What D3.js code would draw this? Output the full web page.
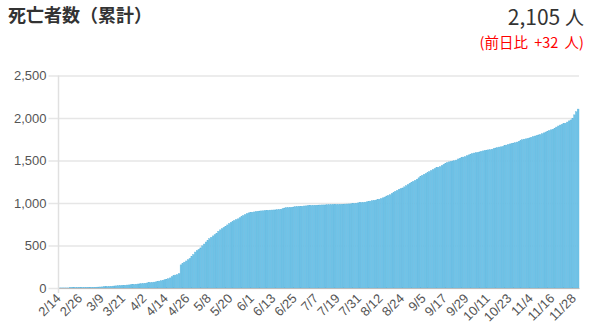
<!DOCTYPE html>
<html>
<head>
<meta charset="utf-8">
<script src="https://cdn.jsdelivr.net/npm/d3@7/dist/d3.min.js"></script>
<style>
  body { margin: 0; background: #fff; }
  svg { display: block; }
  .tick text { font-family: "Liberation Sans", Arial, sans-serif; fill: #555; }
</style>
</head>
<body>
<svg id="chart" width="590" height="330"></svg>
<script>
// cumulative deaths, one value per day from 2/14
var startDate = new Date(2020, 1, 14);
var deathsFeb = [1, 1, 1, 1, 1, 1, 3, 3, 3, 4, 4, 4, 5, 5, 6, 6];
var deathsMar = [6, 7, 7, 8, 9, 10, 11, 12, 13, 15, 16, 17, 19, 20, 22, 24, 25, 27, 28, 30, 31, 33, 35, 36, 38, 41, 42, 45, 47, 49, 51];
var deathsApr = [53, 56, 59, 62, 64, 66, 69, 72, 76, 81, 85, 91, 97, 103, 109, 119, 133, 145, 152, 158, 170, 272, 287, 304, 318, 332, 348, 372, 394, 423];
var deathsMay = [440, 455, 472, 496, 517, 541, 560, 580, 597, 613, 627, 645, 667, 684, 698, 713, 727, 742, 758, 772, 783, 795, 806, 814, 826, 840, 853, 865, 876, 884, 889];
var deathsJun = [892, 895, 899, 902, 905, 907, 908, 910, 912, 914, 916, 917, 918, 919, 921, 924, 927, 934, 941, 945, 946, 948, 950, 953, 956, 958, 959, 960, 962, 965];
var deathsJul = [966, 968, 970, 971, 972, 973, 974, 975, 976, 977, 977, 978, 979, 980, 981, 981, 982, 983, 983, 984, 985, 986, 987, 988, 989, 990, 992, 995, 998, 1001, 1004];
var deathsAug = [1006, 1007, 1010, 1014, 1017, 1022, 1027, 1031, 1034, 1038, 1045, 1053, 1061, 1070, 1082, 1089, 1097, 1113, 1125, 1138, 1149, 1162, 1169, 1177, 1190, 1203, 1217, 1233, 1245, 1255, 1267];
var deathsSep = [1280, 1296, 1310, 1325, 1338, 1347, 1357, 1370, 1383, 1394, 1405, 1415, 1421, 1428, 1442, 1456, 1468, 1477, 1484, 1490, 1494, 1497, 1505, 1518, 1527, 1536, 1540, 1545, 1556, 1566];
var deathsOct = [1575, 1582, 1588, 1591, 1594, 1601, 1608, 1613, 1618, 1622, 1625, 1627, 1633, 1641, 1647, 1652, 1658, 1661, 1664, 1673, 1681, 1689, 1695, 1702, 1705, 1709, 1717, 1726, 1735, 1744, 1751];
var deathsNov = [1755, 1759, 1766, 1774, 1782, 1788, 1795, 1801, 1806, 1815, 1825, 1835, 1845, 1853, 1861, 1868, 1880, 1893, 1906, 1917, 1925, 1932, 1939, 1952, 1966, 1977, 1995, 2037, 2073, 2105];

var xTickLabels = ["2/14", "2/26", "3/9", "3/21", "4/2", "4/14", "4/26", "5/8", "5/20", "6/1", "6/13", "6/25",
    "7/7", "7/19", "7/31", "8/12", "8/24", "9/5", "9/17", "9/29", "10/11", "10/23", "11/4", "11/16", "11/28"];
var yTicks = [0, 500, 1000, 1500, 2000, 2500];

var titleText = "死亡者数（累計）";
var unitText = "人";

var deaths = [].concat(deathsFeb, deathsMar, deathsApr, deathsMay, deathsJun,
    deathsJul, deathsAug, deathsSep, deathsOct, deathsNov);
var fmtDay = d3.timeFormat("%-m/%-d");
var rows = deaths.map(function (v, i) {
    return { label: fmtDay(d3.timeDay.offset(startDate, i)), value: v };
});
var last = deaths[deaths.length - 1],
    diff = last - deaths[deaths.length - 2];

var svg = d3.select("#chart");
var margin = { top: 75.5, right: 11, bottom: 42, left: 58.5 },
    width = 590 - margin.left - margin.right,
    height = 330 - margin.top - margin.bottom;

//  Header ---
svg.append("text")
    .attr("x", 8).attr("y", 22)
    .style("font-family", "'Noto Sans CJK JP', sans-serif")
    .style("font-weight", "bold")
    .style("font-size", "18px")
    .style("fill", "#333")
    .text(titleText);

var total = svg.append("text")
    .attr("x", 584).attr("y", 25)
    .attr("text-anchor", "end")
    .style("font-family", "'Noto Sans CJK JP', sans-serif")
    .style("font-size", "21px")
    .style("fill", "#333");
total.append("tspan").text(d3.format(",")(last) + " ");
total.append("tspan").style("font-size", "19px").text(unitText);

svg.append("text")
    .attr("x", 584).attr("y", 48)
    .attr("text-anchor", "end")
    .style("font-family", "'Noto Sans CJK JP', sans-serif")
    .style("font-size", "14.5px")
    .style("fill", "#f00")
    .style("word-spacing", "3px")
    .text("(前日比 +" + diff + " " + unitText + ")");

var g = svg.append("g").attr("transform", "translate(" + margin.left + "," + margin.top + ")");

var x = d3.scaleBand()
    .domain(rows.map(function (d) { return d.label; }))
    .range([0, width])
    .padding(0);
var y = d3.scaleLinear()
    .domain([0, 2500])
    .range([height, 0]);

//  Grid + Y axis ---
var yAxis = g.append("g")
    .call(d3.axisLeft(y).tickValues(yTicks).tickFormat(d3.format(",")).tickSize(-width - 10).tickPadding(3))
    .attr("transform", "translate(-10,0)");
yAxis.select(".domain").remove();
yAxis.selectAll(".tick line").attr("stroke", "#e6e6e6").attr("stroke-width", 1.5);
yAxis.selectAll(".tick text").style("font-size", "13px").attr("x", -2);

//  Bars ---
g.append("g").selectAll("rect")
    .data(rows)
    .enter().append("rect")
    .attr("x", function (d) { return x(d.label); })
    .attr("width", x.bandwidth())
    .attr("y", function (d) { return y(d.value); })
    .attr("height", function (d) { return height - y(d.value); })
    .attr("fill", "#70c3e7")
    .attr("stroke", "#62b7de")
    .attr("stroke-width", 0.4);

//  X axis ---
var xAxis = g.append("g")
    .attr("transform", "translate(0," + height + ")")
    .call(d3.axisBottom(x).tickValues(xTickLabels).tickSize(0));
xAxis.select(".domain").attr("stroke", "#bbb");
xAxis.selectAll(".tick text")
    .style("font-size", "13px")
    .style("text-anchor", "end")
    .attr("y", 0)
    .attr("dy", "0.35em")
    .attr("transform", "translate(-1,8) rotate(-45)");

g.append("line")
    .attr("x1", 0).attr("x2", 0)
    .attr("y1", 0).attr("y2", height + 5)
    .attr("stroke", "#e0e0e0")
    .attr("stroke-width", 1.5);
</script>
</body>
</html>
